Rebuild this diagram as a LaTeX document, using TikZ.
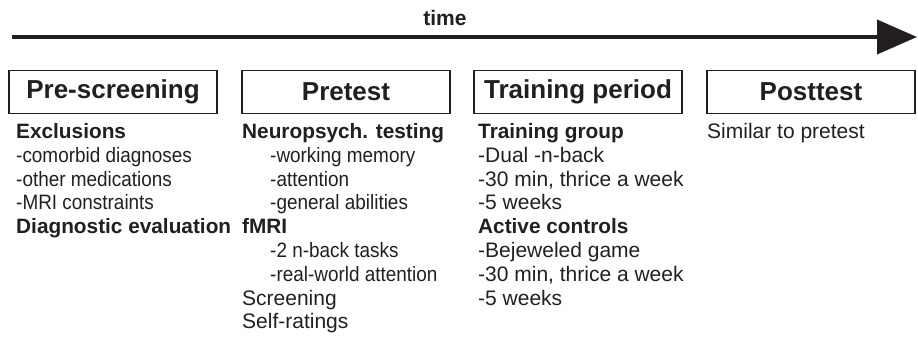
\documentclass[tikz,border=0pt]{standalone}
\usepackage{fontspec}
\setmainfont{Liberation Sans}
\newfontfamily\narrowsans[FakeStretch=0.91]{Liberation Sans}
\usetikzlibrary{arrows.meta}
\definecolor{ink}{RGB}{35,31,32}
\tikzset{
	phase/.style={draw=ink, line width=1.2pt, minimum width=208pt, minimum height=43pt, inner sep=0pt, text=ink, font=\fontsize{26}{30}\selectfont\bfseries},
	item/.style={anchor=base west, inner sep=0pt, text=ink, font=\fontsize{21}{24}\selectfont},
	sub/.style={item, font=\fontsize{20.8}{24}\narrowsans},
	head/.style={item, font=\fontsize{20.8}{24}\selectfont\bfseries},
}

\begin{document}
\begin{tikzpicture}[x=1pt, y=-1pt]
			%%%%% START %%%%%
			\useasboundingbox (0, 0) rectangle (918, 337);
			
			\coordinate (t0) at (12, 37);
			\coordinate (t1) at (917, 37);
			\draw[line width=4pt, color=ink, -{Triangle[length=40pt, width=34pt]}] (t0) -- (t1);
			\node[anchor=base, inner sep=0pt, text=ink, font=\fontsize{21}{25}\selectfont\bfseries] (time) at (445, 26) {time};
			
			\node[phase] (pre) at (113, 92) {Pre-screening};
			\node[phase] (pretest) at (346, 92) {Pretest};
			\node[phase] (train) at (578, 92) {Training period};
			\node[phase] (post) at (811, 92) {Posttest};
			
			\node[head] (excl) at (16, 138.4) {Exclusions};
			\node[sub] (comorb) at (16, 162.2) {-comorbid diagnoses};
			\node[sub] (meds) at (16, 186) {-other medications};
			\node[sub] (mri) at (16, 209.8) {-MRI constraints};
			\node[head] (diag) at (16, 233.6) {Diagnostic evaluation};
			
			\node[head] (neuro) at (242, 138.4) {Neuropsych. testing};
			\node[sub] (wm) at (270, 162.2) {-working memory};
			\node[sub] (att) at (270, 186) {-attention};
			\node[sub] (gen) at (270, 209.8) {-general abilities};
			\node[head] (fmri) at (242, 233.6) {fMRI};
			\node[sub] (nback) at (270, 257.4) {-2 n-back tasks};
			\node[sub] (rw) at (270, 281.2) {-real-world attention};
			\node[item] (scr) at (242, 305) {Screening};
			\node[item] (self) at (242, 328.8) {Self-ratings};
			
			\node[head] (tgroup) at (478, 138.4) {Training group};
			\node[item] (dual) at (478, 162.2) {-Dual -n-back};
			\node[item] (tmin) at (478, 186) {-30 min, thrice a week};
			\node[item] (tweeks) at (478, 209.8) {-5 weeks};
			\node[head] (active) at (478, 233.6) {Active controls};
			\node[item] (bej) at (478, 257.4) {-Bejeweled game};
			\node[item] (amin) at (478, 281.2) {-30 min, thrice a week};
			\node[item] (aweeks) at (478, 305) {-5 weeks};
			
			\node[item] (similar) at (707, 138.4) {Similar to pretest};
			%%%%% END %%%%%
\end{tikzpicture}
\end{document}
